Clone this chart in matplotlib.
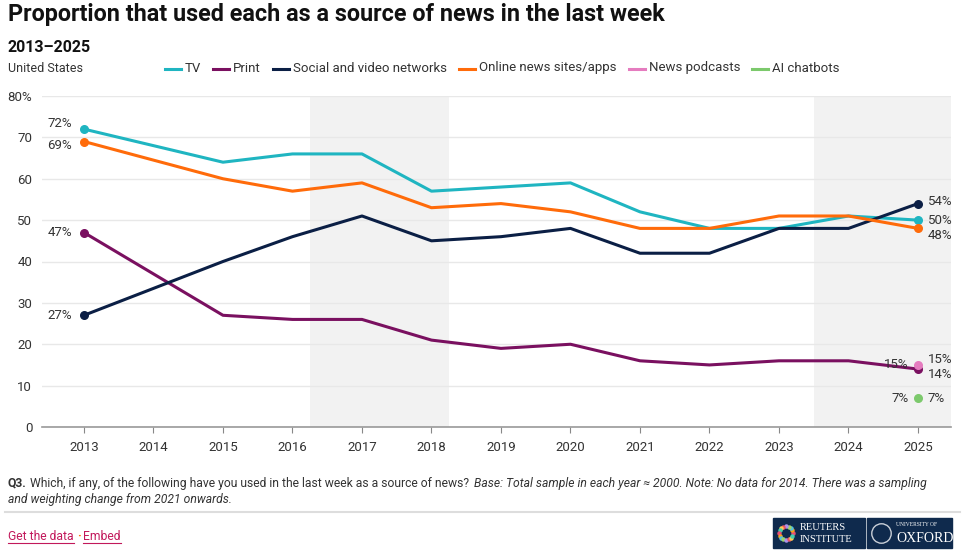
import matplotlib.pyplot as plt
from matplotlib.patches import Rectangle
from matplotlib import font_manager
import numpy as np

years = [2013, 2015, 2016, 2017, 2018, 2019, 2020, 2021, 2022, 2023, 2024, 2025]
tv = [72, 64, 66, 66, 57, 58, 59, 52, 48, 48, 51, 50]
print_ = [47, 27, 26, 26, 21, 19, 20, 16, 15, 16, 16, 14]
social = [27, 40, 46, 51, 45, 46, 48, 42, 42, 48, 48, 54]
online = [69, 60, 57, 59, 53, 54, 52, 48, 48, 51, 51, 48]
podcasts_2025 = 15
chatbots_2025 = 7

tick_years = list(range(2013, 2026))
shade_spans = [(2016.25, 2018.25), (2023.5, 2025.6)]

c_tv = '#1fb5c1'
c_print = '#7a1060'
c_social = '#0b1f45'
c_online = '#ff6b0a'
c_pod = '#e57cbf'
c_ai = '#7cc96c'
txt = '#333333'

plt.rcParams['font.family'] = ['Roboto', 'DejaVu Sans']
names = {f.name for f in font_manager.fontManager.ttflist}
narrow = 'Liberation Sans Narrow' if 'Liberation Sans Narrow' in names else 'Roboto'

W, H = 973, 558
fig = plt.figure(figsize=(W / 100, H / 100), dpi=100)
renderer = fig.canvas.get_renderer()
ax = fig.add_axes([42 / W, 1 - 427 / H, (951 - 42) / W, (427 - 96) / H])

for a, b in shade_spans:
    ax.axvspan(a, b, color='#f2f2f2', zorder=0, lw=0)

series = [(tv, c_tv), (print_, c_print), (social, c_social), (online, c_online)]
for vals, col in series:
    ax.plot(years, vals, color=col, lw=2.2, zorder=3, solid_joinstyle='round')
    ax.scatter([years[0], years[-1]], [vals[0], vals[-1]], color=col, s=30, zorder=4)

ax.scatter([2025], [podcasts_2025], color=c_pod, s=30, zorder=4)
ax.scatter([2025], [chatbots_2025], color=c_ai, s=30, zorder=4)

# start labels
for vals, dy in [(tv, 1.3), (online, -0.9), (print_, 0), (social, 0)]:
    ax.text(2012.83, vals[0] + dy, f'{vals[0]}%', ha='right', va='center', fontsize=9.5, color=txt)

# end labels
for v, dy in [(social[-1], 0.6), (tv[-1], 0), (online[-1], -1.6),
              (podcasts_2025, 1.3), (print_[-1], -1.3), (chatbots_2025, 0)]:
    ax.text(2025.14, v + dy, f'{v}%', ha='left', va='center', fontsize=9.5, color=txt)
ax.text(2024.87, podcasts_2025 + 0.1, f'{podcasts_2025}%', ha='right', va='center', fontsize=9.5, color=txt)
ax.text(2024.87, chatbots_2025, f'{chatbots_2025}%', ha='right', va='center', fontsize=9.5, color=txt)

ax.set_xlim(2012.396, 2025.475)
ax.set_ylim(0, 80)
ax.set_yticks(range(0, 81, 10))
ax.set_yticklabels([str(v) if v < 80 else '80%' for v in range(0, 81, 10)])
ax.set_xticks(tick_years)
ax.set_xticklabels([str(y) for y in tick_years])
ax.tick_params(axis='y', length=0, pad=7, labelsize=9.5, labelcolor=txt)
ax.tick_params(axis='x', length=4, color='#888888', pad=6, labelsize=9.5, labelcolor=txt)
ax.grid(axis='y', color='#e8e8e8', lw=1, zorder=1)
for s in ['top', 'right', 'left']:
    ax.spines[s].set_visible(False)
ax.spines['bottom'].set_color('#999999')
ax.spines['bottom'].set_linewidth(1.2)
ax.set_axisbelow(True)

# titles
fig.text(8 / W, 1 - 14 / H, 'Proportion that used each as a source of news in the last week',
         fontsize=16.8, fontweight='bold', color='#111111', va='center')
fig.text(8 / W, 1 - 47 / H, '2013–2025', fontsize=11.5, fontweight='bold', color='#111111', va='center')
fig.text(8 / W, 1 - 68 / H, 'United States', fontsize=9, color=txt, va='center')

# legend
legend_items = [('TV', c_tv), ('Print', c_print), ('Social and video networks', c_social),
                ('Online news sites/apps', c_online), ('News podcasts', c_pod),
                ('AI chatbots', c_ai)]
x0 = 165
for label, col in legend_items:
    fig.add_artist(plt.Line2D([x0 / W, (x0 + 16) / W], [1 - 69 / H] * 2, color=col, lw=2.2))
    t = fig.text((x0 + 20) / W, 1 - 68 / H, label, fontsize=9.5, color=txt, va='center')
    x0 = t.get_window_extent(renderer).x1 + 12

# footnote
fs = 8.7
t1 = fig.text(8 / W, 1 - 483 / H, 'Q3.', fontsize=fs, fontweight='bold', color=txt,
              va='center', family=narrow)
x = t1.get_window_extent(renderer).x1 + 3
t2 = fig.text(x / W, 1 - 483 / H,
              'Which, if any, of the following have you used in the last week as a source of news? ',
              fontsize=fs, color=txt, va='center', family=narrow)
x = t2.get_window_extent(renderer).x1 + 2
fig.text(x / W, 1 - 483 / H,
         'Base: Total sample in each year ≈ 2000. Note: No data for 2014. There was a sampling',
         fontsize=fs, color=txt, va='center', style='italic', family=narrow)
fig.text(8 / W, 1 - 499 / H, 'and weighting change from 2021 onwards.',
         fontsize=fs, color=txt, va='center', style='italic', family=narrow)
fig.add_artist(plt.Line2D([5 / W, 960 / W], [1 - 512 / H] * 2, color='#dddddd', lw=1.5))

pink = '#c2185b'
g = fig.text(8 / W, 1 - 536 / H, 'Get the data', fontsize=fs, color=pink, va='center', family=narrow)
e1 = g.get_window_extent(renderer)
d = fig.text((e1.x1 + 3) / W, 1 - 536 / H, '·', fontsize=fs, color='#ff6b0a', va='center',
             fontweight='bold', family=narrow)
e2 = d.get_window_extent(renderer)
e = fig.text((e2.x1 + 3) / W, 1 - 536 / H, 'Embed', fontsize=fs, color=pink, va='center', family=narrow)
e3 = e.get_window_extent(renderer)
for ext in (e1, e3):
    fig.add_artist(plt.Line2D([ext.x0 / W, ext.x1 / W], [1 - 543 / H] * 2, color=pink, lw=0.8))

# logos
for lx0, lx1 in [(773, 865), (867, 952)]:
    fig.add_artist(Rectangle((lx0 / W, 1 - 548 / H), (lx1 - lx0) / W, 30 / H,
                             transform=fig.transFigure, color='#0f2a4d'))
ring = ['#e94e77', '#f7a41d', '#4fc1e9', '#a0d468', '#ac92ec', '#ed5565', '#ffce54', '#48cfad']
ang = np.linspace(0, 2 * np.pi, 16, endpoint=False)
for i, a in enumerate(ang):
    fig.add_artist(plt.Line2D([(786 + 7 * np.cos(a)) / W], [(1 - 533 / H) + 7 * np.sin(a) / H],
                              ls='none', marker='o', ms=2.2, color=ring[i % len(ring)]))
fig.add_artist(plt.Line2D([881 / W], [1 - 533 / H], ls='none', marker='o', ms=14,
                          mfc='none', mec='#c9cfd8', mew=1))
fig.text(800 / W, 1 - 527 / H, 'REUTERS', fontsize=7.5, color='white', family='Liberation Serif', va='center')
fig.text(800 / W, 1 - 540 / H, 'INSTITUTE', fontsize=7.5, color='white', family='Liberation Serif', va='center')
fig.text(896 / W, 1 - 525 / H, 'UNIVERSITY OF', fontsize=4, color='white', family='Liberation Serif', va='center')
fig.text(896 / W, 1 - 539 / H, 'OXFORD', fontsize=10, color='white', family='Liberation Serif', va='center')

fig.savefig('out.png', dpi=100)
